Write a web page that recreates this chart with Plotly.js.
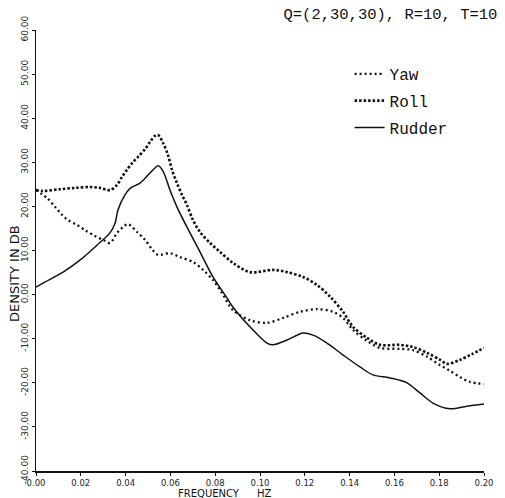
<!DOCTYPE html>
<html>
<head>
<meta charset="utf-8">
<script src="https://cdn.plot.ly/plotly-3.0.1.min.js"></script>
<style>
  html, body { margin: 0; padding: 0; background: #fff; }
  #chart { width: 505px; height: 498px; }
</style>
</head>
<body>
<div id="chart"></div>
<script>
// Spectral density (dB) of yaw, roll and rudder versus frequency (Hz)
const yawFreq = [0, 0.0054, 0.0085, 0.0116, 0.0143, 0.0183, 0.0219, 0.0263, 0.0308, 0.0330,
  0.0362, 0.0388, 0.0411, 0.0451, 0.0487, 0.0518, 0.0545, 0.0598, 0.0643, 0.0701,
  0.0746, 0.0790, 0.0830, 0.0879, 0.0955, 0.1031, 0.1103, 0.1179, 0.1254, 0.1326,
  0.1371, 0.1415, 0.1478, 0.1536, 0.1625, 0.1683, 0.1746, 0.1804, 0.1848, 0.1893,
  0.1938, 0.2];
const yawDb = [23.7, 21.7, 19.9, 18.1, 16.9, 15.8, 14.6, 13.3, 12.2, 11.7,
  14.0, 15.3, 16.0, 14.2, 12.4, 10.3, 9.0, 9.4, 8.5, 7.4,
  5.6, 3.3, 0.4, -3.5, -5.8, -6.4, -5.3, -3.9, -3.3, -3.9,
  -5.3, -8.0, -10.5, -12.1, -12.3, -12.6, -14.1, -16.0, -17.3, -18.7,
  -19.8, -20.3];

const rollFreq = [0, 0.0031, 0.0107, 0.0174, 0.0241, 0.0286, 0.0330, 0.0362, 0.0384, 0.0406,
  0.0429, 0.0455, 0.0487, 0.0509, 0.0531, 0.0545, 0.0567, 0.0589, 0.0607, 0.0629,
  0.0652, 0.0674, 0.0701, 0.0732, 0.0777, 0.0821, 0.0879, 0.0955, 0.1058, 0.1121,
  0.1192, 0.1254, 0.1313, 0.1371, 0.1415, 0.1478, 0.1536, 0.1625, 0.1683, 0.1746,
  0.1804, 0.1835, 0.1893, 0.1946, 0.2];
const rollDb = [23.7, 23.5, 23.9, 24.2, 24.4, 24.2, 23.7, 24.9, 26.7, 28.3,
  29.8, 31.2, 33.0, 34.6, 36.0, 36.2, 34.4, 31.7, 28.3, 25.3,
  22.6, 20.3, 16.9, 14.2, 11.7, 9.7, 7.2, 5.1, 5.6, 5.1,
  4.0, 2.2, -0.5, -3.9, -7.3, -9.8, -11.4, -11.4, -11.9, -13.2,
  -14.8, -15.7, -14.8, -13.5, -12.1];

const rudderFreq = [0, 0.0031, 0.0121, 0.0196, 0.0272, 0.0330, 0.0353, 0.0366, 0.0397, 0.0420,
  0.0464, 0.0500, 0.0531, 0.0545, 0.0567, 0.0598, 0.0629, 0.0674, 0.0732, 0.0790,
  0.0853, 0.0879, 0.0955, 0.1031, 0.1058, 0.1121, 0.1192, 0.1237, 0.1299, 0.1371,
  0.1446, 0.1504, 0.1580, 0.1656, 0.1714, 0.1772, 0.1848, 0.1924, 0.2];
const rudderDb = [1.7, 2.6, 5.1, 7.8, 11.2, 14.0, 16.2, 19.2, 22.6, 24.1,
  25.3, 27.1, 28.7, 29.2, 28.0, 23.7, 19.9, 15.3, 9.7, 4.0,
  -0.8, -2.8, -7.3, -11.0, -11.4, -10.3, -8.7, -9.2, -11.0, -13.7,
  -16.4, -18.2, -18.9, -20.0, -22.3, -24.6, -25.9, -25.3, -24.8];

const xTickVals = [0, 0.02, 0.04, 0.06, 0.08, 0.10, 0.12, 0.14, 0.16, 0.18, 0.20];
const xTickText = ['0.00', '0.02', '0.04', '0.06', '0.08', '0.10', '0.12', '0.14', '0.16', '0.18', '0.20'];
const yTickVals = [-40, -30, -20, -10, 0, 10, 20, 30, 40, 50, 60];
const yTickText = ['-40.00', '-30.00', '-20.00', '-10.00', '0.00', '10.00', '20.00', '30.00', '40.00', '50.00', '60.00'];

const seriesNames = ['Yaw', 'Roll', 'Rudder'];
const chartTitle = 'Q=(2,30,30), R=10, T=10';
const yTitle = 'DENSITY IN DB';
const xTitleParts = ['FREQUENCY', 'HZ'];

const mono = 'Liberation Mono, Courier New, monospace';
const sans = 'DejaVu Sans, Liberation Sans, sans-serif';

const traces = [
  {
    x: yawFreq, y: yawDb, name: seriesNames[0], legendgroup: 'a',
    mode: 'lines', line: { shape: 'spline', smoothing: 0.9, color: '#111', width: 2.3, dash: '2px,3px' }
  },
  {
    x: rollFreq, y: rollDb, name: seriesNames[1], legendgroup: 'b',
    mode: 'lines', line: { shape: 'spline', smoothing: 0.9, color: '#111', width: 2.6, dash: '2.5px,2px' }
  },
  {
    x: rudderFreq, y: rudderDb, name: seriesNames[2], legendgroup: 'c',
    mode: 'lines', line: { shape: 'spline', smoothing: 0.9, color: '#111', width: 1.5 }
  }
];

const layout = {
  width: 505, height: 498,
  margin: { l: 36, r: 21, t: 30, b: 27 },
  paper_bgcolor: '#fff', plot_bgcolor: '#fff',
  showlegend: true,
  title: {
    text: chartTitle,
    font: { family: mono, size: 15.5, color: '#111' },
    xref: 'container', yref: 'container',
    x: 0.985, xanchor: 'right', y: 0.973, yanchor: 'middle'
  },
  legend: {
    x: 0.7, xanchor: 'left', y: 0.939, yanchor: 'top',
    bgcolor: 'rgba(0,0,0,0)', borderwidth: 0,
    font: { family: mono, size: 16, color: '#111' },
    tracegroupgap: 3, itemwidth: 30
  },
  xaxis: {
    range: [0, 0.2], showgrid: false, zeroline: false,
    showline: true, linecolor: '#111', linewidth: 1.5,
    ticks: 'outside', ticklen: 3, tickwidth: 1, tickcolor: '#111',
    tickvals: xTickVals, ticktext: xTickText,
    tickfont: { family: sans, size: 8.5, color: '#222' }
  },
  yaxis: {
    range: [-40, 60], showgrid: false, zeroline: false,
    showline: true, linecolor: '#111', linewidth: 1.5,
    ticks: 'outside', ticklen: 3, tickwidth: 1, tickcolor: '#111',
    tickvals: yTickVals, ticktext: yTickText, tickangle: -90,
    tickfont: { family: sans, size: 9, color: '#222' }
  },
  annotations: [
    {
      text: yTitle, xref: 'paper', yref: 'paper', x: -0.047, y: 0.449,
      xanchor: 'center', yanchor: 'middle', textangle: -90, showarrow: false,
      font: { family: sans, size: 13, color: '#111' }
    },
    {
      text: xTitleParts[0], xref: 'paper', yref: 'paper', x: 0.386, y: -0.05,
      xanchor: 'center', yanchor: 'middle', showarrow: false,
      font: { family: sans, size: 10, color: '#111' }
    },
    {
      text: xTitleParts[1], xref: 'paper', yref: 'paper', x: 0.511, y: -0.05,
      xanchor: 'center', yanchor: 'middle', showarrow: false,
      font: { family: sans, size: 10, color: '#111' }
    }
  ]
};

Plotly.newPlot('chart', traces, layout, { staticPlot: true, displayModeBar: false });
</script>
</body>
</html>
